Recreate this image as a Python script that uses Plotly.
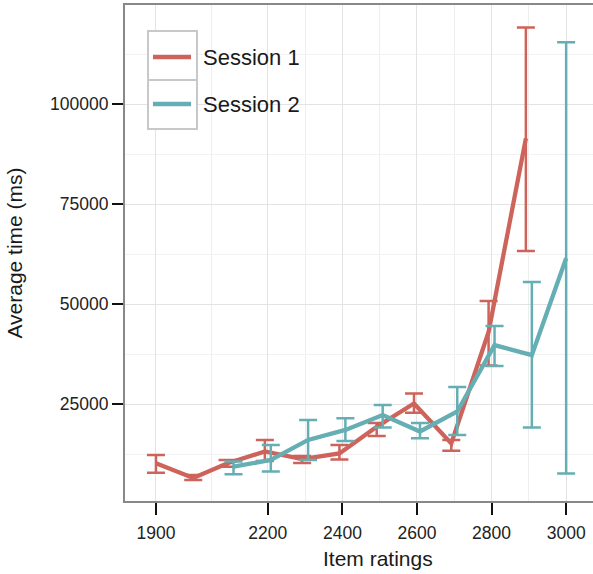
import plotly.graph_objects as go

# ---- data ----
ratings1 = [1900, 2000, 2100, 2200, 2300, 2400, 2500, 2600, 2700, 2800, 2900]
mean1 = [10250, 6600, 10250, 13200, 11300, 12700, 19400, 25200, 15200, 43100, 91500]
upper1 = [12300, 7300, 11100, 16100, 12100, 14800, 20300, 27700, 16100, 50800, 119200]
lower1 = [7900, 6100, 9400, 10800, 10300, 11200, 17100, 22900, 13400, 34700, 63300]

ratings2 = [2100, 2200, 2300, 2400, 2500, 2600, 2700, 2800, 2900, 3000]
mean2 = [9400, 11100, 16100, 18600, 22300, 18200, 23200, 39800, 37300, 61500]
upper2 = [10700, 14800, 21100, 21500, 24800, 20300, 29300, 44600, 55600, 115500]
lower2 = [7500, 8200, 11100, 15800, 19200, 16500, 17300, 34600, 19200, 7700]

series_names = ["Session 1", "Session 2"]
colors = ["#CD635A", "#64AEB4"]
x_ticks = [1900, 2200, 2400, 2600, 2800, 3000]
x_minor = [2050, 2300, 2500, 2700, 2900]
y_ticks = [25000, 50000, 75000, 100000]
y_minor = [12500, 37500, 62500, 87500, 112500]
x_title = "Item ratings"
y_title = "Average time (ms)"

# dodge only where both sessions share an x value (like ggplot position_dodge)
shared = set(ratings1) & set(ratings2)
dodge = 8
x1 = [r - dodge if r in shared else r for r in ratings1]
x2 = [r + dodge if r in shared else r for r in ratings2]

fig = go.Figure()
for name, xs, m, up, lo, col in [
    (series_names[0], x1, mean1, upper1, lower1, colors[0]),
    (series_names[1], x2, mean2, upper2, lower2, colors[1]),
]:
    fig.add_trace(go.Scatter(
        x=xs, y=m, mode="lines", name=name, showlegend=False,
        line=dict(color=col, width=4.3),
        error_y=dict(type="data", symmetric=False,
                     array=[u - v for u, v in zip(up, m)],
                     arrayminus=[v - l for v, l in zip(m, lo)],
                     color=col, thickness=2.5, width=9),
    ))

font_family = "Liberation Sans, Arial, sans-serif"
W, H = 593, 574
L, R, T, B = 125, 0, 5, 73
pw = W - L - R
ph = H - T - B


def px_x(p):
    return (p - L) / pw


def px_y(p):
    return (H - B - p) / ph


# ggplot-style legend: key boxes, key lines and labels
shapes = []
annotations = []
cells = [(31, 80), (80, 129)]
key_y = [57, 104]
for (y0, y1), yc, name, col in zip(cells, key_y, series_names, colors):
    shapes.append(dict(type="rect", xref="paper", yref="paper",
                       x0=px_x(148), x1=px_x(197), y0=px_y(y1), y1=px_y(y0),
                       line=dict(color="#C8C8C8", width=2), fillcolor="white",
                       layer="above"))
    shapes.append(dict(type="line", xref="paper", yref="paper",
                       x0=px_x(153), x1=px_x(191), y0=px_y(yc), y1=px_y(yc),
                       line=dict(color=col, width=4.3), layer="above"))
    annotations.append(dict(text=name, xref="paper", yref="paper",
                            x=px_x(201), y=px_y(yc), xanchor="left", yanchor="middle",
                            showarrow=False,
                            font=dict(size=22, color="#1a1a1a", family=font_family)))

# x-axis title (the original panel extends past the right edge of the picture,
# so its title is centred to the right of this visible panel's centre)
annotations.append(dict(text=x_title, xref="paper", yref="paper",
                        x=px_x(378), y=px_y(558), xanchor="center", yanchor="middle",
                        showarrow=False,
                        font=dict(size=21, color="#1a1a1a", family=font_family)))

fig.update_layout(
    width=W, height=H,
    margin=dict(l=L, r=R, t=T, b=B),
    paper_bgcolor="white", plot_bgcolor="white",
    font=dict(family=font_family, color="#1a1a1a"),
    shapes=shapes,
    annotations=annotations,
    showlegend=False,
    xaxis=dict(
        range=[1817, 3072], tickvals=x_ticks, ticktext=[str(v) for v in x_ticks],
        showgrid=True, gridcolor="#E3E3E3", gridwidth=1,
        minor=dict(tickvals=x_minor, showgrid=True, gridcolor="#EEEEEE", gridwidth=1, ticks=""),
        ticks="outside", ticklen=12, tickwidth=2, tickcolor="#111111",
        ticklabelstandoff=3,
        tickfont=dict(size=17.5, color="#222222"),
        showline=True, linecolor="#888888", linewidth=2, mirror=True,
        zeroline=False,
    ),
    yaxis=dict(
        range=[825, 124825], tickvals=y_ticks, ticktext=[str(v) for v in y_ticks],
        showgrid=True, gridcolor="#E3E3E3", gridwidth=1,
        minor=dict(tickvals=y_minor, showgrid=True, gridcolor="#F2F2F2", gridwidth=1, ticks=""),
        ticks="outside", ticklen=11, tickwidth=2, tickcolor="#111111",
        tickfont=dict(size=17.5, color="#222222"),
        showline=True, linecolor="#888888", linewidth=2, mirror=False,
        zeroline=False,
        title=dict(text=y_title, font=dict(size=21), standoff=22),
    ),
)

fig.write_html("out.html")
